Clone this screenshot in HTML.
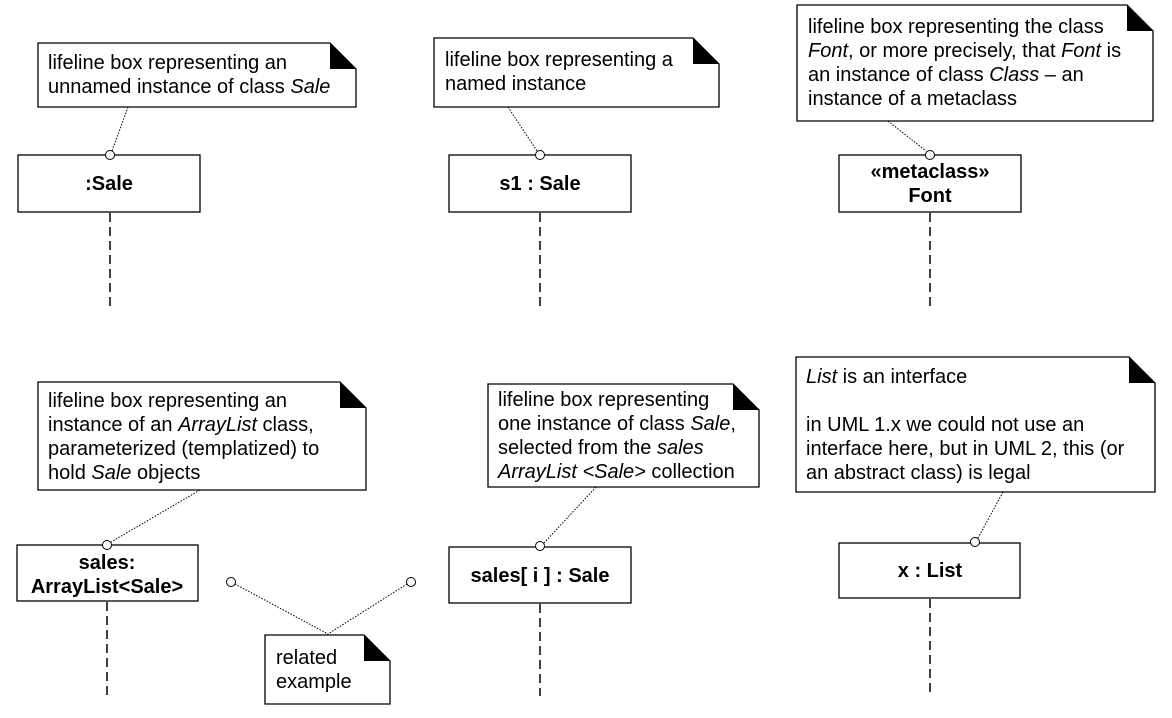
<!DOCTYPE html>
<html><head><meta charset="utf-8"><style>
html,body{margin:0;padding:0;background:#fff;width:1172px;height:718px;overflow:hidden}
svg text{font-family:"Liberation Sans",Arial,sans-serif;font-size:20px;fill:#000}
.b{font-weight:bold}
</style></head><body>
<svg width="1172" height="718" viewBox="0 0 1172 718" xmlns="http://www.w3.org/2000/svg">
<g fill="none" stroke="#000" stroke-width="1.3">
<polygon points="38,43 330,43 356,69 356,107 38,107" fill="#fff"/>
<polygon points="434,38 693,38 719,64 719,107 434,107" fill="#fff"/>
<polygon points="797,5 1127,5 1153,31 1153,121 797,121" fill="#fff"/>
<polygon points="38,382 340,382 366,408 366,490 38,490" fill="#fff"/>
<polygon points="488,384 733,384 759,410 759,487 488,487" fill="#fff"/>
<polygon points="796,357 1129,357 1155,383 1155,492 796,492" fill="#fff"/>
<polygon points="265,635 364,635 390,661 390,704 265,704" fill="#fff"/>
<rect x="18" y="155" width="182" height="57" fill="#fff"/>
<rect x="449" y="155" width="182" height="57" fill="#fff"/>
<rect x="839" y="155" width="182" height="57" fill="#fff"/>
<rect x="17" y="545" width="181" height="56" fill="#fff"/>
<rect x="449" y="547" width="182" height="56" fill="#fff"/>
<rect x="839" y="543" width="181" height="55" fill="#fff"/>
</g>
<g fill="#000">
<polygon points="330,43 330,69 356,69"/>
<polygon points="693,38 693,64 719,64"/>
<polygon points="1127,5 1127,31 1153,31"/>
<polygon points="340,382 340,408 366,408"/>
<polygon points="733,384 733,410 759,410"/>
<polygon points="1129,357 1129,383 1155,383"/>
<polygon points="364,635 364,661 390,661"/>
</g>
<g stroke="#000" stroke-width="1" stroke-dasharray="1.5,1.5" fill="none">
<line x1="128" y1="107" x2="112" y2="151"/>
<line x1="508" y1="107" x2="537" y2="151"/>
<line x1="888" y1="121" x2="926" y2="151"/>
<line x1="200" y1="490" x2="111" y2="542"/>
<line x1="596" y1="487" x2="544" y2="543"/>
<line x1="1003" y1="492" x2="978" y2="538"/>
<line x1="235" y1="584" x2="328" y2="634"/>
<line x1="407" y1="584" x2="328" y2="634"/>
</g>
<g stroke="#000" stroke-width="1.5" stroke-dasharray="9,5" fill="none">
<line x1="110" y1="213" x2="110" y2="306"/>
<line x1="540" y1="213" x2="540" y2="306"/>
<line x1="930" y1="213" x2="930" y2="306"/>
<line x1="107" y1="602" x2="107" y2="696"/>
<line x1="540" y1="604" x2="540" y2="696"/>
<line x1="930" y1="599" x2="930" y2="696"/>
</g>
<g fill="#fff" stroke="#000" stroke-width="1">
<circle cx="110" cy="155" r="4.5"/>
<circle cx="540" cy="155" r="4.5"/>
<circle cx="930" cy="155" r="4.5"/>
<circle cx="107" cy="545" r="4.5"/>
<circle cx="540" cy="546" r="4.5"/>
<circle cx="975" cy="542" r="4.5"/>
<circle cx="231" cy="582" r="4.5"/>
<circle cx="411" cy="582" r="4.5"/>
</g>
<text x="48" y="69">lifeline box representing an</text>
<text x="48" y="93">unnamed instance of class <tspan font-style="italic">Sale</tspan></text>
<text x="445" y="66">lifeline box representing a</text>
<text x="445" y="90">named instance</text>
<text x="808" y="33">lifeline box representing the class</text>
<text x="808" y="57"><tspan font-style="italic">Font</tspan>, or more precisely, that <tspan font-style="italic">Font</tspan> is</text>
<text x="808" y="81">an instance of class <tspan font-style="italic">Class</tspan> – an</text>
<text x="808" y="105">instance of a metaclass</text>
<text x="48" y="407">lifeline box representing an</text>
<text x="48" y="431">instance of an <tspan font-style="italic">ArrayList</tspan> class,</text>
<text x="48" y="455">parameterized (templatized) to</text>
<text x="48" y="479">hold <tspan font-style="italic">Sale</tspan> objects</text>
<text x="498" y="406">lifeline box representing</text>
<text x="498" y="430">one instance of class <tspan font-style="italic">Sale</tspan>,</text>
<text x="498" y="454">selected from the <tspan font-style="italic">sales</tspan></text>
<text x="498" y="478"><tspan font-style="italic">ArrayList &lt;Sale&gt;</tspan> collection</text>
<text x="806" y="383"><tspan font-style="italic">List</tspan> is an interface</text>
<text x="806" y="431">in UML 1.x we could not use an</text>
<text x="806" y="455">interface here, but in UML 2, this (or</text>
<text x="806" y="479">an abstract class) is legal</text>
<text x="276" y="664">related</text>
<text x="276" y="688">example</text>
<g text-anchor="middle">
<text class="b" x="109" y="190">:Sale</text>
<text class="b" x="540" y="190">s1 : Sale</text>
<text class="b" x="930" y="178">«metaclass»</text>
<text class="b" x="930" y="202">Font</text>
<text class="b" x="107" y="569">sales:</text>
<text class="b" x="107" y="593">ArrayList&lt;Sale&gt;</text>
<text class="b" x="540" y="582">sales[ i ] : Sale</text>
<text class="b" x="930" y="577">x : List</text>
</g>
</svg>
</body></html>
